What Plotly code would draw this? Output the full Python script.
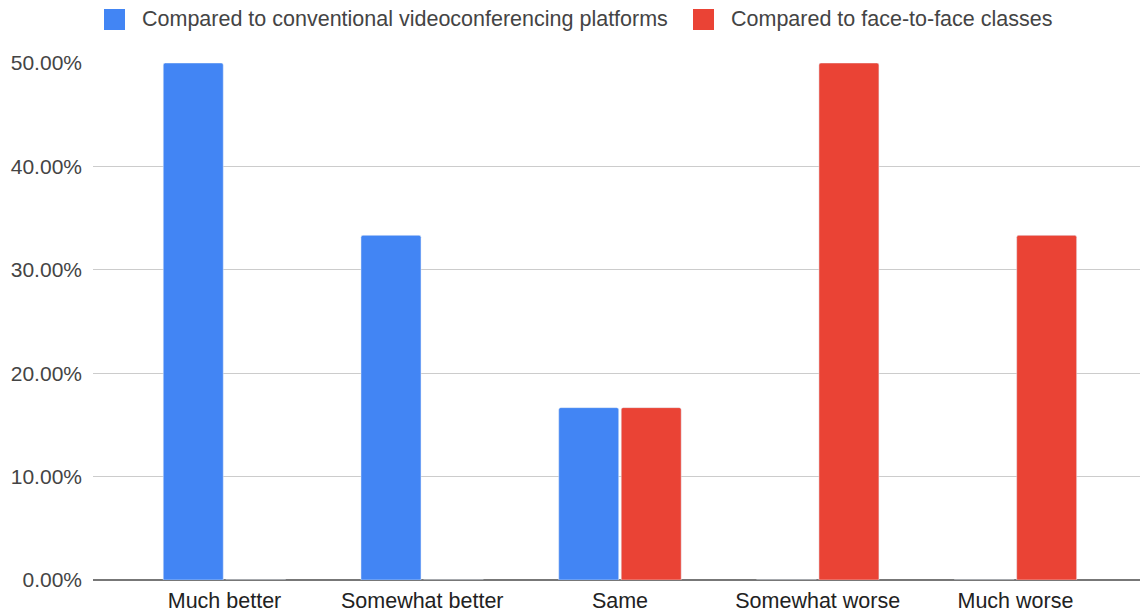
import plotly.graph_objects as go

# Survey responses: share of respondents per rating
categories = ["Much better", "Somewhat better", "Same", "Somewhat worse", "Much worse"]
vs_videoconf = [0.50, 0.3333, 0.1667, 0.0, 0.0]
vs_face_to_face = [0.0, 0.0, 0.1667, 0.50, 0.3333]
series_names = ["Compared to conventional videoconferencing platforms",
                "Compared to face-to-face classes"]
y_ticks = [0.0, 0.1, 0.2, 0.3, 0.4, 0.5]
y_tick_labels = ["0.00%", "10.00%", "20.00%", "30.00%", "40.00%", "50.00%"]

BLUE = "#4285F4"
RED = "#EA4335"
FONT = "Liberation Sans, Arial, sans-serif"

W, H = 1143, 615
ML, MR, MT, MB = 93, 3, 63, 35
PW, PH = W - ML - MR, H - MT - MB


def px_x(px):
    return (px - ML) / PW


def px_y(py):
    return (H - MB - py) / PH


fig = go.Figure()
fig.add_trace(go.Bar(x=categories, y=vs_videoconf, name=series_names[0],
                     marker=dict(color=BLUE, cornerradius=2), showlegend=False))
fig.add_trace(go.Bar(x=categories, y=vs_face_to_face, name=series_names[1],
                     marker=dict(color=RED, cornerradius=2), showlegend=False))

# Legend row drawn at the top
legend_items = [(104, BLUE, series_names[0]), (693, RED, series_names[1])]
for x0, color, label in legend_items:
    fig.add_shape(type="rect", xref="paper", yref="paper",
                  x0=px_x(x0), x1=px_x(x0 + 21), y0=px_y(30), y1=px_y(9),
                  fillcolor=color, line=dict(width=0))
    fig.add_annotation(xref="paper", yref="paper", x=px_x(x0 + 36), y=px_y(19),
                       xanchor="left", yanchor="middle", showarrow=False,
                       text=label, font=dict(family=FONT, size=21.5, color="#444444"))

fig.update_layout(
    width=W, height=H,
    margin=dict(l=ML, r=MR, t=MT, b=MB),
    paper_bgcolor="white", plot_bgcolor="white",
    barmode="group", bargap=0.368, bargroupgap=0.04,
    font=dict(family=FONT, size=21.5, color="#222222"),
    xaxis=dict(type="category", range=[-0.665, 4.63], showgrid=False,
               showline=False, zeroline=False, ticks="",
               ticklabelstandoff=5,
               tickfont=dict(family=FONT, size=21.5, color="#222222")),
    yaxis=dict(range=[0, 0.5], tickvals=y_ticks, ticktext=y_tick_labels,
               showgrid=True, gridcolor="#cccccc", gridwidth=1,
               zeroline=True, zerolinecolor="#777777", zerolinewidth=2,
               ticks="", ticklabelstandoff=10,
               tickfont=dict(family=FONT, size=21, color="#444444")),
)

fig.write_html("out.html")
